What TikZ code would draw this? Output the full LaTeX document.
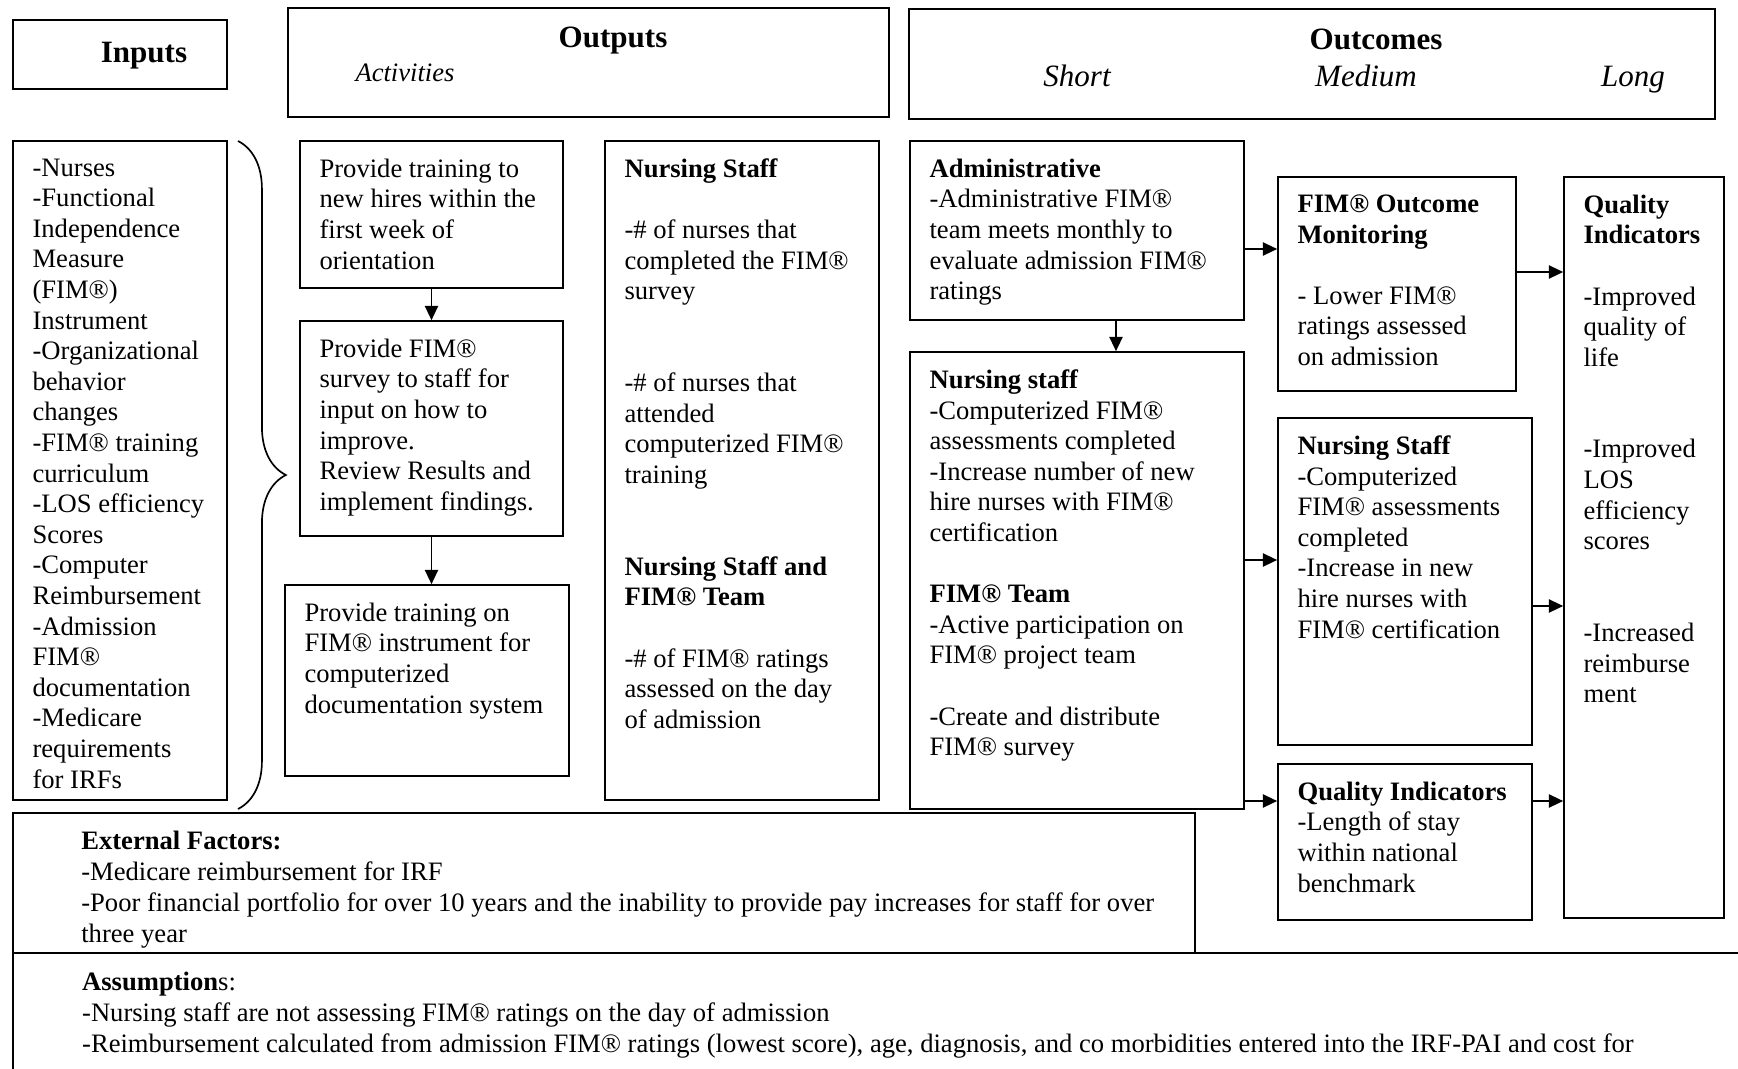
\documentclass[tikz,border=0pt]{standalone}
\usepackage{fontspec}
\setmainfont{Liberation Serif}
\usetikzlibrary{arrows.meta,fit,decorations.pathreplacing}

\tikzset{
  caja/.style={draw, line width=0.75pt, inner sep=0pt},
  texto/.style={anchor=north west, align=left, inner xsep=9pt, inner ysep=8.2pt,
    font=\fontsize{12}{13.8}\selectfont, execute at begin node=\strut},
  nota/.style={texto, xshift=22pt, font=\fontsize{12}{14}\selectfont},
  titulo/.style={anchor=base, font=\fontsize{14}{16}\selectfont\bfseries},
  subtitulo/.style={anchor=base, font=\fontsize{14}{16}\selectfont\itshape},
  flecha/.style={line width=0.75pt, -{Triangle[length=6.5pt,width=6pt]}},
}

\begin{document}
\begin{tikzpicture}[x=0.4511pt, y=-0.4511pt]
  \useasboundingbox (0,0) rectangle (1738,1069);

  % Encabezados
  \node[caja, fit={(13,20) (227,89)}] (hinputs) {};
  \node[caja, fit={(288,8) (889,117)}] (houtputs) {};
  \node[caja, fit={(909,9) (1715,119)}] (houtcomes) {};
  \node[titulo] (tinputs) at (144,62.5) {Inputs};
  \node[titulo] (toutputs) at (613,47.5) {Outputs};
  \node[anchor=base, font=\fontsize{12}{14}\selectfont\itshape] (tactiv) at (405,81) {Activities};
  \node[titulo] (toutcomes) at (1376,49.5) {Outcomes};
  \node[subtitulo] (tshort) at (1077,86) {Short};
  \node[subtitulo] (tmedium) at (1366,86) {Medium};
  \node[subtitulo] (tlong) at (1633,86) {Long};

  % Cajas
  \node[caja, fit={(13,141) (227,800)}] (inputs) {};
  \node[caja, fit={(300,141) (563,288)}] (train1) {};
  \node[caja, fit={(300,321) (563,536)}] (survey) {};
  \node[caja, fit={(285,585) (569,776)}] (traincomp) {};
  \node[caja, fit={(605,141) (879,800)}] (nstaff) {};
  \node[caja, fit={(910,141) (1244,320)}] (admin) {};
  \node[caja, fit={(910,352) (1244,809)}] (nshort) {};
  \node[caja, fit={(1278,177) (1516,391)}] (fimmon) {};
  \node[caja, fit={(1278,418) (1532,745)}] (nmed) {};
  \node[caja, fit={(1278,764) (1532,920)}] (qimed) {};
  \node[caja, fit={(1564,177) (1724,918)}] (qilong) {};
  \node[caja, fit={(13,813) (1195,953)}] (ext) {};
  \draw[line width=0.75pt] (13,1069) |- (1738,953);

  % Llave
  \draw[line width=0.75pt, decorate, decoration={brace, amplitude=21.6pt}] (238,141) -- (238,809);

  % Textos
  \node[texto] (inputsT) at (inputs.north west) {-Nurses\\-Functional\\Independence\\Measure\\(FIM®)\\Instrument\\-Organizational\\behavior\\changes\\-FIM® training\\curriculum\\-LOS efficiency\\Scores\\-Computer\\Reimbursement\\-Admission\\FIM®\\documentation\\-Medicare\\requirements\\for IRFs};
  \node[texto] (train1T) at (train1.north west) {Provide training to\\new hires within the\\first week of\\orientation};
  \node[texto] (surveyT) at (survey.north west) {Provide FIM®\\survey to staff for\\input on how to\\improve.\\Review Results and\\implement findings.};
  \node[texto] (traincompT) at (traincomp.north west) {Provide training on\\FIM® instrument for\\computerized\\documentation system};
  \node[texto] (nstaffT) at (nstaff.north west) {\textbf{Nursing Staff}\\[13.8pt]-\# of nurses that\\completed the FIM®\\survey\\[27.6pt]-\# of nurses that\\attended\\computerized FIM®\\training\\[27.6pt]\textbf{Nursing Staff and}\\\textbf{FIM® Team}\\[13.8pt]-\# of FIM® ratings\\assessed on the day\\of admission};
  \node[texto] (adminT) at (admin.north west) {\textbf{Administrative}\\-Administrative FIM®\\team meets monthly to\\evaluate admission FIM®\\ratings};
  \node[texto] (nshortT) at (nshort.north west) {\textbf{Nursing staff}\\-Computerized FIM®\\assessments completed\\-Increase number of new\\hire nurses with FIM®\\certification\\[13.8pt]\textbf{FIM® Team}\\-Active participation on\\FIM® project team\\[13.8pt]-Create and distribute\\FIM® survey};
  \node[texto] (fimmonT) at (fimmon.north west) {\textbf{FIM® Outcome}\\\textbf{Monitoring}\\[13.8pt]- Lower FIM®\\ratings assessed\\on admission};
  \node[texto] (nmedT) at (nmed.north west) {\textbf{Nursing Staff}\\-Computerized\\FIM® assessments\\completed\\-Increase in new\\hire nurses with\\FIM® certification};
  \node[texto] (qimedT) at (qimed.north west) {\textbf{Quality Indicators}\\-Length of stay\\within national\\benchmark};
  \node[texto] (qilongT) at (qilong.north west) {\textbf{Quality}\\\textbf{Indicators}\\[13.8pt]-Improved\\quality of\\life\\[27.6pt]-Improved\\LOS\\efficiency\\scores\\[27.6pt]-Increased\\reimburse\\ment};
  \node[nota] (extT) at (ext.north west) {\textbf{External Factors:}\\-Medicare reimbursement for IRF\\-Poor financial portfolio for over 10 years and the inability to provide pay increases for staff for over\\three year};
  \node[nota] (assumT) at (13,953) {\textbf{Assumption}s:\\-Nursing staff are not assessing FIM® ratings on the day of admission\\-Reimbursement calculated from admission FIM® ratings (lowest score), age, diagnosis, and co morbidities entered into the IRF-PAI and cost for};

  % Flechas
  \draw[flecha] (train1.south) -- (survey.north);
  \draw[flecha] (survey.south) -- (survey.south |- traincomp.north);
  \draw[flecha] (admin.south -| 1116,0) -- (nshort.north -| 1116,0);
  \draw[flecha] (admin.east |- 0,249) -- (fimmon.west |- 0,249);
  \draw[flecha] (nshort.east |- 0,560) -- (nmed.west |- 0,560);
  \draw[flecha] (nshort.east |- 0,801) -- (qimed.west |- 0,801);
  \draw[flecha] (fimmon.east |- 0,272) -- (qilong.west |- 0,272);
  \draw[flecha] (nmed.east |- 0,606) -- (qilong.west |- 0,606);
  \draw[flecha] (qimed.east |- 0,801) -- (qilong.west |- 0,801);

\end{tikzpicture}
\end{document}
